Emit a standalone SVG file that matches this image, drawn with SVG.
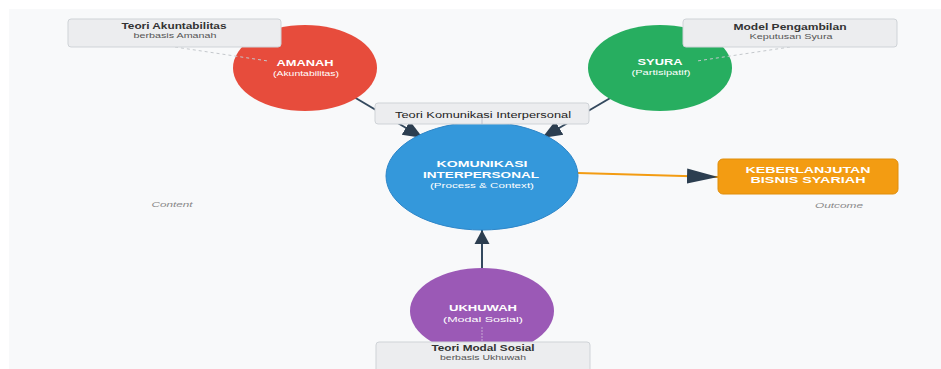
<svg xmlns="http://www.w3.org/2000/svg" width="941" height="369" viewBox="0 0 941 369">
<style>
.bg{fill:#f8f9fa}
.lbl{fill:#ecedef;stroke:#cfd3d7;stroke-width:1}
.t{font-family:"Liberation Sans",Arial,sans-serif;text-anchor:middle}
.lt{font-size:8.5px;font-weight:bold;fill:#333}
.ls{font-size:7px;fill:#555}
.nt{font-size:8.5px;font-weight:bold;fill:#fff}
.ns{font-size:7px;fill:#fff}
.cap{font-size:8px;font-style:italic;fill:#888}
.arr{stroke:#34495e;stroke-width:2;fill:none}
.dot{stroke:#c4c8cc;stroke-width:1;stroke-dasharray:3,3;fill:none}
</style>
<defs>
<marker id="ah" markerUnits="userSpaceOnUse" markerWidth="22" markerHeight="18" refX="20" refY="8" orient="auto" viewBox="0 0 22 16">
<path d="M0,0 L20,8 L0,16 Z" fill="#2c3e50"/>
</marker>
<marker id="ahv" markerUnits="userSpaceOnUse" markerWidth="16" markerHeight="16" refX="14" refY="7.5" orient="auto" viewBox="0 0 16 15">
<path d="M0,0 L14,7.5 L0,15 Z" fill="#2c3e50"/>
</marker>
<marker id="aho" markerUnits="userSpaceOnUse" markerWidth="32" markerHeight="16" refX="31" refY="7.5" orient="auto" viewBox="0 0 32 15">
<path d="M0,0 L31,7.5 L0,15 Z" fill="#2c3e50"/>
</marker>
</defs>
<rect class="bg" x="9" y="9" width="932" height="360"/>
<g id="connectors">
<line class="arr" x1="354" y1="97" x2="423" y2="138" marker-end="url(#ah)"/>
<line class="arr" x1="612" y1="97" x2="542" y2="138" marker-end="url(#ah)"/>
<line class="arr" x1="482" y1="270" x2="482" y2="230" marker-end="url(#ahv)"/>
<line x1="578" y1="173" x2="718" y2="177" stroke="#f39c12" stroke-width="2" marker-end="url(#aho)"/>
</g>
<g id="amanah">
<ellipse cx="305" cy="68" rx="72" ry="43" fill="#e74c3c"/>
<text class="t nt" x="305" y="66" textLength="57" lengthAdjust="spacingAndGlyphs">AMANAH</text>
<text class="t ns" x="306" y="76" textLength="66" lengthAdjust="spacingAndGlyphs">(Akuntabilitas)</text>
</g>
<g id="syura">
<ellipse cx="660" cy="68" rx="72" ry="43" fill="#27ae60"/>
<text class="t nt" x="660" y="65" textLength="45" lengthAdjust="spacingAndGlyphs">SYURA</text>
<text class="t ns" x="661" y="75" textLength="59" lengthAdjust="spacingAndGlyphs">(Partisipatif)</text>
</g>
<g id="label-links">
<line class="dot" x1="175" y1="47" x2="268" y2="61"/>
<line class="dot" x1="790" y1="47" x2="697" y2="61"/>
</g>
<g id="label-amanah">
<rect class="lbl" x="68" y="19" width="213" height="28" rx="3"/>
<text class="t lt" x="174" y="29" textLength="105" lengthAdjust="spacingAndGlyphs">Teori Akuntabilitas</text>
<text class="t ls" x="175" y="38" textLength="83" lengthAdjust="spacingAndGlyphs">berbasis Amanah</text>
</g>
<g id="label-syura">
<rect class="lbl" x="683" y="19" width="214" height="28" rx="3"/>
<text class="t lt" x="790" y="30" textLength="113" lengthAdjust="spacingAndGlyphs">Model Pengambilan</text>
<text class="t ls" x="791" y="39" textLength="83" lengthAdjust="spacingAndGlyphs">Keputusan Syura</text>
</g>
<g id="komunikasi">
<ellipse cx="482" cy="176" rx="96" ry="54" fill="#3498db" stroke="#2e86c8" stroke-width="1"/>
<text class="t nt" x="482" y="167" textLength="91" lengthAdjust="spacingAndGlyphs">KOMUNIKASI</text>
<text class="t nt" x="481" y="178" textLength="116" lengthAdjust="spacingAndGlyphs">INTERPERSONAL</text>
<text class="t ns" x="482" y="188" textLength="104" lengthAdjust="spacingAndGlyphs">(Process &amp; Context)</text>
</g>
<g id="label-komunikasi">
<rect class="lbl" x="375" y="103" width="214" height="21" rx="3"/>
<line x1="482" y1="118" x2="482" y2="124" stroke="#aab" stroke-width="0.6"/>
<text class="t lt" x="483" y="118" textLength="176" lengthAdjust="spacingAndGlyphs" style="font-weight:normal;font-size:8.5px;fill:#222">Teori Komunikasi Interpersonal</text>
</g>
<g id="keberlanjutan">
<rect x="718" y="159" width="180" height="35" rx="5" fill="#f39c12" stroke="#e08e0b" stroke-width="1"/>
<text class="t nt" x="808" y="173" textLength="125" lengthAdjust="spacingAndGlyphs" style="font-size:9.5px">KEBERLANJUTAN</text>
<text class="t nt" x="808" y="183" textLength="115" lengthAdjust="spacingAndGlyphs" style="font-size:9.5px">BISNIS SYARIAH</text>
</g>
<g id="ukhuwah">
<ellipse cx="482" cy="311" rx="72" ry="43" fill="#9b59b6"/>
<text class="t nt" x="483" y="311" textLength="68" lengthAdjust="spacingAndGlyphs">UKHUWAH</text>
<text class="t ns" x="483" y="322" textLength="80" lengthAdjust="spacingAndGlyphs">(Modal Sosial)</text>
<line x1="482" y1="327" x2="482" y2="342" stroke="#d8c8e0" stroke-width="0.7" stroke-dasharray="2,1"/>
</g>
<g id="label-ukhuwah">
<rect class="lbl" x="376" y="342" width="214" height="30" rx="3"/>
<text class="t lt" x="483" y="351" textLength="103" lengthAdjust="spacingAndGlyphs">Teori Modal Sosial</text>
<text class="t ls" x="483" y="360" textLength="86" lengthAdjust="spacingAndGlyphs">berbasis Ukhuwah</text>
</g>
<g id="captions">
<text class="t cap" x="172" y="207" textLength="41" lengthAdjust="spacingAndGlyphs">Content</text>
<text class="t cap" x="839" y="208" textLength="48" lengthAdjust="spacingAndGlyphs">Outcome</text>
</g>
</svg>
